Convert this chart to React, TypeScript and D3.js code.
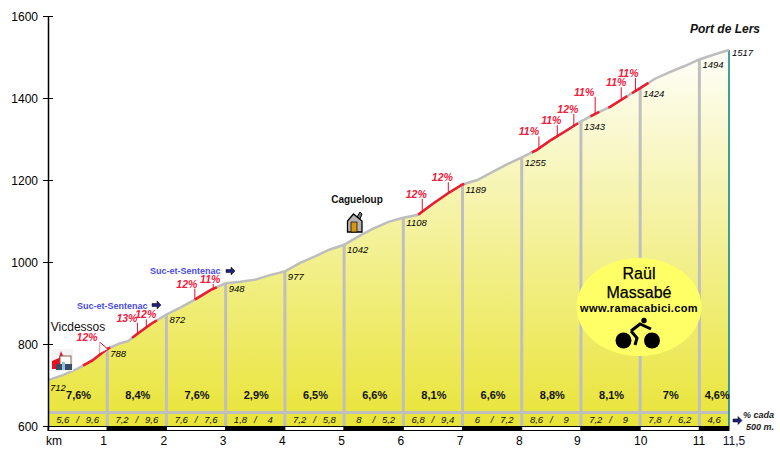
import React, {useEffect, useRef} from "react";
import * as d3 from "d3";

// profile, km / metres
const profileKm = [0, 0.25, 0.5, 0.75, 1, 1.22, 1.35, 1.5, 1.75, 2, 2.25, 2.5, 2.75, 3, 3.25, 3.5, 3.75, 4, 4.25, 4.5, 4.75, 5, 5.25, 5.5, 5.75, 6, 6.25, 6.5, 6.75, 7, 7.25, 7.5, 7.75, 8, 8.25, 8.5, 8.75, 9, 9.25, 9.5, 9.75, 10, 10.25, 10.5, 10.75, 11, 11.25, 11.5];
const profileElev = [712, 724, 740, 760, 788, 802, 807, 824, 850, 872, 890, 910, 932, 948, 952, 957, 968, 977, 997, 1013, 1030, 1042, 1063, 1082, 1098, 1108, 1115, 1142, 1167, 1189, 1200, 1219, 1238, 1255, 1273, 1298, 1320, 1343, 1362, 1379, 1402, 1424, 1447, 1463, 1478, 1494, 1506, 1517];

const yTicks = [600, 800, 1000, 1200, 1400, 1600];
const kmMarks = [1, 2, 3, 4, 5, 6, 7, 8, 9, 10, 11];
const kmLabels = ["1", "2", "3", "4", "5", "6", "7", "8", "9", "10", "11"];
const kmLabelNudge = [-4, -3, -3, -3, -3, -3, -3, -3, -4, 0, -1];
const barStarts = [0, 1, 2, 3, 4, 5, 6, 7, 8, 9, 10, 11];
const barEnds = [1, 2, 3, 4, 5, 6, 7, 8, 9, 10, 11, 11.5];

const kmGrades = ["7,6%", "8,4%", "7,6%", "2,9%", "6,5%", "6,6%", "8,1%", "6,6%", "8,8%", "8,1%", "7%", "4,6%"];
const halfFirst = ["5,6", "7,2", "7,6", "1,8", "7,2", "8", "6,8", "6", "8,6", "7,2", "7,8", "4,6"];
const halfSecond = ["9,6", "9,6", "7,6", "4", "5,8", "5,2", "9,4", "7,2", "9", "9", "6,2", ""];

const elevKm = [0, 1, 2, 3, 4, 5, 6, 7, 8, 9, 10, 11, 11.5];
const elevLabels = [712, 788, 872, 948, 977, 1042, 1108, 1189, 1255, 1343, 1424, 1494, 1517];

// stretches drawn in red
const steepFrom = [0.59, 1.42, 2.48, 6.25, 8.17, 9.16, 9.46, 9.86];
const steepTo = [1.05, 1.84, 2.85, 7.03, 8.95, 9.31, 9.78, 10.14];

const flagKm = [0.88, 1.51, 1.66, 2.48, 2.79, 6.32, 6.76, 8.29, 8.6, 8.88, 9.24, 9.68, 9.92];
const flagLabels = ["12%", "13%", "12%", "12%", "11%", "12%", "12%", "11%", "11%", "12%", "11%", "11%", "11%"];

function Chart() {
  const svgRef = useRef<SVGSVGElement>(null);

  useEffect(() => {
    const svg = d3.select(svgRef.current);
    svg.selectAll("*").remove();

    const x = d3.scaleLinear().domain([0, 11.5]).range([48, 729]);
    const y = d3.scaleLinear().domain([600, 1600]).range([426, 16]);
    const elevAt = d3.scaleLinear().domain(profileKm).range(profileElev);
    const points: [number, number][] = profileKm.map((k, i) => [k, profileElev[i]]);
    const arial = "Liberation Sans, Arial, sans-serif";

    const grad = svg.append("defs").append("linearGradient")
      .attr("id", "fill-grad")
      .attr("gradientUnits", "userSpaceOnUse")
      .attr("x1", 0).attr("x2", 0)
      .attr("y1", 40).attr("y2", 426);
    grad.append("stop").attr("offset", "0%").attr("stop-color", "#ffffff");
    grad.append("stop").attr("offset", "100%").attr("stop-color", "#e9e438");

    const area = d3.area<[number, number]>()
      .x((d) => x(d[0]))
      .y0(y(600))
      .y1((d) => y(d[1]));
    const line = d3.line<[number, number]>()
      .x((d) => x(d[0]))
      .y((d) => y(d[1]));

    svg.append("path").attr("d", area(points)).attr("fill", "url(#fill-grad)");

    // km columns and the band under them
    svg.append("g").selectAll("line").data(kmMarks).join("line")
      .attr("x1", (d) => x(d)).attr("x2", (d) => x(d))
      .attr("y1", (d) => y(elevAt(d)))
      .attr("y2", y(600))
      .attr("stroke", "#bfbfbf").attr("stroke-width", 3);
    svg.append("line")
      .attr("x1", x(0)).attr("x2", x(11.5))
      .attr("y1", 412.5).attr("y2", 412.5)
      .attr("stroke", "#bfbfbf").attr("stroke-width", 3);
    svg.append("line")
      .attr("x1", x(11.5)).attr("x2", x(11.5))
      .attr("y1", y(1517)).attr("y2", y(600))
      .attr("stroke", "#008080").attr("stroke-width", 1.5);

    svg.append("path").attr("d", line(points))
      .attr("fill", "none").attr("stroke", "#bdbdbd").attr("stroke-width", 2.5);

    // red stretches
    steepFrom.forEach((from, i) => {
      const to = steepTo[i];
      const inside = points.filter((p) => p[0] > from && p[0] < to);
      const seg: [number, number][] = [[from, elevAt(from)], ...inside, [to, elevAt(to)]];
      svg.append("path").attr("d", line(seg))
        .attr("fill", "none").attr("stroke", "#ee1c2e").attr("stroke-width", 2.5);
    });

    // flag stems and their percentages
    const stem = [12, 11, 8, 11, 5, 13, 11, 12, 11, 12, 17, 12.5, 13];
    const textDx = [-13, -10.5, -0.5, -8, -3, -6, -6, -10, -6, -6, -11, -5, -7];
    flagKm.forEach((k, i) => {
      const fy = y(elevAt(k));
      svg.append("line")
        .attr("x1", x(k)).attr("x2", x(k))
        .attr("y1", fy).attr("y2", fy - stem[i])
        .attr("stroke", "#e0102a").attr("stroke-width", 1);
      svg.append("text")
        .attr("x", x(k) + textDx[i]).attr("y", fy - stem[i] - 1)
        .attr("text-anchor", "middle")
        .attr("font-family", arial).attr("font-size", 10.5)
        .attr("font-weight", "bold").attr("font-style", "italic")
        .attr("fill", "#f0203c")
        .text(flagLabels[i]);
    });
    const tipX = x(flagKm[0]), tipY = y(elevAt(flagKm[0]));
    svg.append("path")
      .attr("d", `M${tipX},${tipY - 12}L${tipX + 8},${tipY - 5}L${tipX},${tipY - 1}`)
      .attr("fill", "#fff").attr("stroke", "#e0102a").attr("stroke-width", 1);

    // elevation labels
    svg.append("g").selectAll("text").data(elevLabels).join("text")
      .attr("x", (d, i) => i === 0 ? x(0) + 2 : x(elevKm[i]) + 3)
      .attr("y", (d, i) => y(d) + (i === 0 ? 11 : i === 12 ? 6 : 8.5))
      .attr("font-family", arial).attr("font-size", 9.5)
      .attr("font-style", "italic").attr("fill", "#000")
      .text((d) => d);

    // gradient of each km and of each half km
    barStarts.forEach((s, i) => {
      const e = barEnds[i];
      const mid = (s + e) / 2;
      svg.append("text")
        .attr("x", x(mid) + (i === 11 ? 3 : 1)).attr("y", 399)
        .attr("text-anchor", "middle")
        .attr("font-family", arial).attr("font-size", 11).attr("font-weight", "bold")
        .attr("fill", "#111")
        .text(kmGrades[i]);
      const half = svg.append("g")
        .attr("font-family", arial).attr("font-size", 9.5).attr("font-style", "italic")
        .attr("fill", "#111").attr("text-anchor", "middle");
      if (halfSecond[i] === "") {
        half.append("text").attr("x", x(mid)).attr("y", 422.5).text(halfFirst[i]);
      } else {
        half.append("text").attr("x", x(s + 0.25)).attr("y", 422.5).text(halfFirst[i]);
        half.append("text").attr("x", x(s + 0.5)).attr("y", 422.5).text("/");
        half.append("text").attr("x", x(s + 0.75)).attr("y", 422.5).text(halfSecond[i]);
      }
    });

    // distance bar
    svg.append("g").selectAll("rect").data(barStarts).join("rect")
      .attr("x", (d) => x(d))
      .attr("width", (d, i) => x(barEnds[i]) - x(d))
      .attr("y", 426.5).attr("height", 4)
      .attr("fill", (d, i) => i % 2 === 0 ? "#fff" : "#000")
      .attr("stroke", "#000").attr("stroke-width", 1);

    // axes
    const yAxis = svg.append("g")
      .attr("transform", `translate(${x(0)},0)`)
      .call(d3.axisLeft(y).tickValues(yTicks).tickSize(5).tickFormat((d) => String(d)));
    yAxis.select(".domain").attr("d", `M0.5,${y(1600)}V431`).attr("stroke", "#000").attr("stroke-width", 1.5);
    yAxis.selectAll(".tick line").attr("x1", -5).attr("x2", 5).attr("stroke", "#000");
    yAxis.selectAll(".tick text")
      .attr("x", -10).attr("dy", "0.36em")
      .attr("font-family", arial).attr("font-size", 12).attr("fill", "#000");

    const xAxis = svg.append("g")
      .attr("transform", "translate(0,431)")
      .call(d3.axisBottom(x).tickValues(kmMarks).tickSize(0).tickFormat((d, i) => kmLabels[i]));
    xAxis.select(".domain").remove();
    xAxis.selectAll(".tick text")
      .attr("dx", (d, i) => kmLabelNudge[i])
      .attr("y", 5)
      .attr("font-family", arial).attr("font-size", 12).attr("fill", "#000");
    svg.append("text").attr("x", 54).attr("y", 445).attr("text-anchor", "middle")
      .attr("font-family", arial).attr("font-size", 12).text("km");
    svg.append("text").attr("x", x(11.5) + 5).attr("y", 445).attr("text-anchor", "middle")
      .attr("font-family", arial).attr("font-size", 12).attr("fill", "#10103a").text("11,5");

    // place names
    svg.append("text").attr("x", 78).attr("y", 331).attr("text-anchor", "middle")
      .attr("font-family", arial).attr("font-size", 12).attr("fill", "#111").text("Vicdessos");
    svg.append("text").attr("x", 690).attr("y", 33)
      .attr("font-family", arial).attr("font-size", 12).attr("font-weight", "bold")
      .attr("font-style", "italic").attr("fill", "#111").text("Port de Lers");
    svg.append("text").attr("x", 357).attr("y", 203).attr("text-anchor", "middle")
      .attr("font-family", arial).attr("font-size", 10).attr("font-weight", "bold")
      .attr("fill", "#111").text("Cagueloup");

    const navyArrow = (ax: number, ay: number) => {
      svg.append("path")
        .attr("d", `M${ax},${ay - 1.5}h5v-2.5l4,4l-4,4v-2.5h-5z`)
        .attr("fill", "#20207a").attr("stroke", "#000").attr("stroke-width", 0.5);
    };
    [[77, 308.5, 152, 305], [150, 273.5, 226, 271]].forEach(([tx, ty, ax, ay]) => {
      svg.append("text").attr("x", tx).attr("y", ty)
        .attr("font-family", arial).attr("font-size", 9).attr("font-weight", "bold")
        .attr("fill", "#4a4ae0").text("Suc-et-Sentenac");
      navyArrow(ax, ay);
    });

    // house at Cagueloup
    const house = svg.append("g").attr("transform", "translate(347,211)");
    house.append("path").attr("d", "M10,6l3,-5l2,2l-2,5z").attr("fill", "#777").attr("stroke", "#000");
    house.append("path").attr("d", "M0.5,10L6.5,3L15,10V21H0.5Z").attr("fill", "#b5b5b5").attr("stroke", "#000").attr("stroke-width", 1.3);
    house.append("rect").attr("x", 4).attr("y", 11).attr("width", 6).attr("height", 10).attr("fill", "#d9950f").attr("stroke", "#000").attr("stroke-width", 0.7);

    // village at Vicdessos
    const village = svg.append("g").attr("transform", "translate(51,349)");
    village.append("rect").attr("width", 22).attr("height", 22).attr("fill", "#f4f4f4");
    village.append("path").attr("d", "M1,12L8,9L10,2L13,9V20H1Z").attr("fill", "#e8101c");
    village.append("rect").attr("x", 9).attr("y", 7).attr("width", 11).attr("height", 9).attr("fill", "#fff").attr("stroke", "#8a5a50");
    village.append("rect").attr("x", 5).attr("y", 15).attr("width", 16).attr("height", 6).attr("fill", "#3c4a6a");
    village.append("rect").attr("x", 11).attr("y", 13).attr("width", 3).attr("height", 8).attr("fill", "#8fc4d8");

    // signature
    svg.append("ellipse")
      .attr("cx", 639).attr("cy", 307).attr("rx", 62.5).attr("ry", 49)
      .attr("fill", "#ffff66");
    svg.append("text").attr("x", 639).attr("y", 279).attr("text-anchor", "middle")
      .attr("font-family", arial).attr("font-size", 16).attr("stroke", "#000").attr("stroke-width", 0.25)
      .attr("fill", "#000").text("Raül");
    svg.append("text").attr("x", 639).attr("y", 298).attr("text-anchor", "middle")
      .attr("font-family", arial).attr("font-size", 16).attr("stroke", "#000").attr("stroke-width", 0.25)
      .attr("fill", "#000").text("Massabé");
    svg.append("text").attr("x", 639).attr("y", 312).attr("text-anchor", "middle")
      .attr("font-family", arial).attr("font-size", 11).attr("font-weight", "bold")
      .attr("letter-spacing", 0.35).attr("fill", "#000").text("www.ramacabici.com");
    const bike = svg.append("g");
    bike.append("circle").attr("cx", 623.5).attr("cy", 340.5).attr("r", 8);
    bike.append("circle").attr("cx", 652).attr("cy", 340.5).attr("r", 8);
    bike.append("circle").attr("cx", 644).attr("cy", 320.5).attr("r", 2.7);
    bike.append("path")
      .attr("d", "M631,331L640,324L651,329M631,331L637,338L635,345")
      .attr("fill", "none").attr("stroke", "#000").attr("stroke-width", 3);

    // footnote
    navyArrow(733, 420.5);
    svg.append("text").attr("x", 743).attr("y", 418)
      .attr("font-family", arial).attr("font-size", 9).attr("font-style", "italic")
      .attr("font-weight", "bold").attr("fill", "#222").text("% cada");
    svg.append("text").attr("x", 746).attr("y", 430)
      .attr("font-family", arial).attr("font-size", 9).attr("font-style", "italic")
      .attr("font-weight", "bold").attr("fill", "#222").text("500 m.");
  }, []);

  return <svg ref={svgRef} width={780} height={460} style={{position: "absolute", left: 0, top: 0, background: "#fff"}} />;
}

export default function App() {
  return <Chart />;
}
